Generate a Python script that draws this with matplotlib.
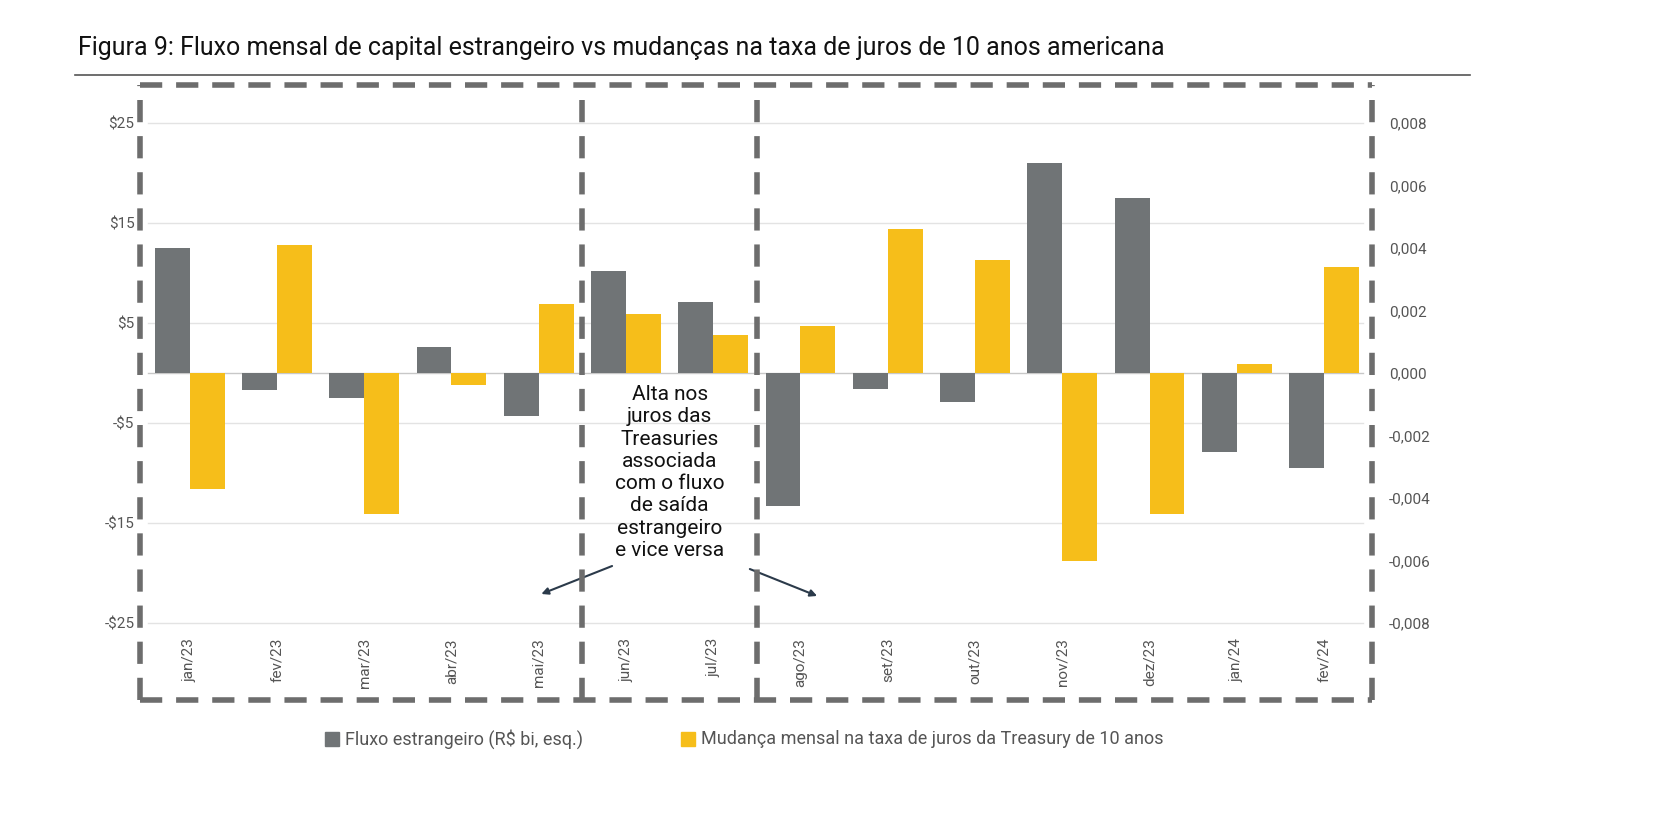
import matplotlib.pyplot as plt
import numpy as np

plt.rcParams['font.family'] = ['Roboto', 'DejaVu Sans']

meses = ['jan/23', 'fev/23', 'mar/23', 'abr/23', 'mai/23', 'jun/23', 'jul/23',
         'ago/23', 'set/23', 'out/23', 'nov/23', 'dez/23', 'jan/24', 'fev/24']
fluxo = [12.5, -1.7, -2.5, 2.6, -4.3, 10.2, 7.1, -13.3, -1.6, -2.9, 21.0, 17.5, -7.9, -9.5]
juros = [-0.0037, 0.0041, -0.0045, -0.0004, 0.0022, 0.0019, 0.0012,
         0.0015, 0.0046, 0.0036, -0.0060, -0.0045, 0.0003, 0.0034]
esq_ticks = [25, 15, 5, -5, -15, -25]
esq_labels = ['$25', '$15', '$5', '-$5', '-$15', '-$25']
dir_ticks = [0.008, 0.006, 0.004, 0.002, 0.0, -0.002, -0.004, -0.006, -0.008]

cinza = '#707476'
amarelo = '#F6BE1A'

fig = plt.figure(figsize=(16.58, 8.32), dpi=100)
ax = fig.add_axes([140/1658, 1-700/832, 1232/1658, 615/832])
ax2 = ax.twinx()

x = np.arange(len(meses))
ymin, ymax = -32.7, 28.8
ax.set_ylim(ymin, ymax)
ax.set_xlim(-0.57, 13.55)
esc = 0.008/25
ax2.set_ylim(ymin*esc, ymax*esc)

for t in esq_ticks:
    ax.plot([-0.48, 13.45], [t, t], color='#e3e3e3', lw=1, zorder=0)
ax.bar(x-0.2, fluxo, width=0.4, color=cinza, zorder=2)
ax2.bar(x+0.2, juros, width=0.4, color=amarelo, zorder=2)
ax.plot([-0.48, 13.45], [0, 0], color='#c8c8c8', lw=1, zorder=1)

ax.set_yticks(esq_ticks)
ax.set_yticklabels(esq_labels, color='#555555', fontsize=11)
ax.tick_params(axis='y', length=0, pad=4)
ax2.set_yticks(dir_ticks)
ax2.set_yticklabels([f'{v:.3f}'.replace('.', ',').replace('-0,000', '0,000') for v in dir_ticks],
                    color='#555555', fontsize=11)
ax2.tick_params(axis='y', length=0, pad=12)
ax.set_xticks([])
for a in (ax, ax2):
    for s in a.spines.values():
        s.set_visible(False)

for i, m in enumerate(meses):
    ax.text(i, -26.5, m, rotation=90, ha='center', va='top', fontsize=11, color='#555555')

# caixas tracejadas
estilo = dict(color='#6d6d6d', lw=4, ls=(0, (4, 2.5)), clip_on=False, zorder=5)
ax.plot([-0.57, 13.55], [ymax, ymax], **estilo)
ax.plot([-0.57, 13.55], [ymin, ymin], **estilo)
for xv in [-0.57, 4.5, 6.5, 13.55]:
    ax.plot([xv, xv], [ymin, ymax], **estilo)

ax.text(5.5, -1.2, 'Alta nos\njuros das\nTreasuries\nassociada\ncom o fluxo\nde saída\nestrangeiro\ne vice versa',
        ha='center', va='top', fontsize=15, linespacing=1.22, color='#111111')
ax.annotate('', xy=(4.0, -22.2), xytext=(4.87, -19.2),
            arrowprops=dict(arrowstyle='-|>', color='#2b3a4a', lw=1.5))
ax.annotate('', xy=(7.22, -22.4), xytext=(6.39, -19.5),
            arrowprops=dict(arrowstyle='-|>', color='#2b3a4a', lw=1.5))

fig.text(78/1658, 1-48/832, 'Figura 9: Fluxo mensal de capital estrangeiro vs mudanças na taxa de juros de 10 anos americana',
         fontsize=18, va='center', ha='left', color='#111111')
fig.add_artist(plt.Line2D([75/1658, 1470/1658], [1-75/832, 1-75/832], color='#555555', lw=1.2))

fig.add_artist(plt.Rectangle((325/1658, 1-746/832), 14/1658, 14/832, color=cinza))
fig.text(345/1658, 1-739/832, 'Fluxo estrangeiro (R$ bi, esq.)', fontsize=13, va='center', color='#555555')
fig.add_artist(plt.Rectangle((681/1658, 1-746/832), 14/1658, 14/832, color=amarelo))
fig.text(701/1658, 1-739/832, 'Mudança mensal na taxa de juros da Treasury de 10 anos', fontsize=13,
         va='center', color='#555555')

fig.savefig('out.png', dpi=100)
